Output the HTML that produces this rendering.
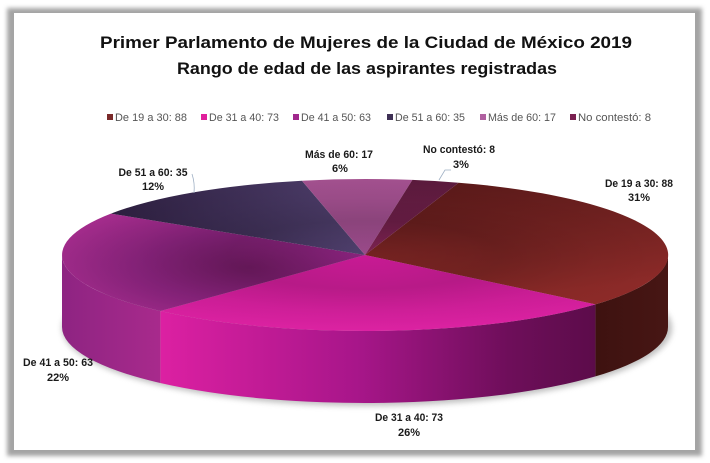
<!DOCTYPE html>
<html><head><meta charset="utf-8"><style>
html,body{margin:0;padding:0;background:#fff;}
svg{display:block;}
text{font-family:"Liberation Sans",sans-serif;}
</style></head><body>
<svg width="710" height="463" viewBox="0 0 710 463" xmlns="http://www.w3.org/2000/svg">
<defs>
<filter id="blur2" x="-10%" y="-10%" width="120%" height="120%"><feGaussianBlur stdDeviation="2"/></filter>
<filter id="blur3" x="-10%" y="-20%" width="120%" height="140%"><feGaussianBlur stdDeviation="3"/></filter>
<linearGradient id="g19" x1="0" y1="0" x2="0.3" y2="1"><stop offset="0" stop-color="#561818"/><stop offset="1" stop-color="#8c2a28"/></linearGradient>
<linearGradient id="g31" x1="0" y1="0" x2="0" y2="1"><stop offset="0" stop-color="#c81a94"/><stop offset="1" stop-color="#dc22a2"/></linearGradient>
<radialGradient id="g41" cx="0.62" cy="0.55" r="0.7"><stop offset="0" stop-color="#701a62"/><stop offset="0.5" stop-color="#86227a"/><stop offset="1" stop-color="#a42c8c"/></radialGradient>
<linearGradient id="g51" x1="0" y1="0" x2="1" y2="0"><stop offset="0" stop-color="#2c1e3e"/><stop offset="1" stop-color="#50406e"/></linearGradient>
<linearGradient id="gMas" x1="0" y1="0" x2="0" y2="1"><stop offset="0" stop-color="#a2508e"/><stop offset="1" stop-color="#9a4a8a"/></linearGradient>
<linearGradient id="gNo" x1="0" y1="0" x2="0" y2="1"><stop offset="0" stop-color="#5a1a3c"/><stop offset="1" stop-color="#7e2252"/></linearGradient>
<linearGradient id="s31" gradientUnits="userSpaceOnUse" x1="160" y1="0" x2="596" y2="0"><stop offset="0" stop-color="#dc20a2"/><stop offset="0.45" stop-color="#a8168a"/><stop offset="0.8" stop-color="#6e0e5a"/><stop offset="1" stop-color="#5c0c4a"/></linearGradient>
<linearGradient id="s41" gradientUnits="userSpaceOnUse" x1="62" y1="0" x2="160" y2="0"><stop offset="0" stop-color="#8e2482"/><stop offset="1" stop-color="#a82a8c"/></linearGradient>
<linearGradient id="s19" gradientUnits="userSpaceOnUse" x1="596" y1="0" x2="668" y2="0"><stop offset="0" stop-color="#3e1210"/><stop offset="1" stop-color="#471614"/></linearGradient>
<radialGradient id="ring" cx="0.5" cy="0.5" r="0.5"><stop offset="0" stop-color="#000" stop-opacity="0"/><stop offset="0.45" stop-color="#000" stop-opacity="0.12"/><stop offset="0.75" stop-color="#000" stop-opacity="0.04"/><stop offset="1" stop-color="#000" stop-opacity="0"/></radialGradient>
</defs>

<!-- frame -->
<rect x="7" y="8" width="695" height="448" fill="#a4a4a4" filter="url(#blur2)"/>
<rect x="14" y="13" width="681" height="437" fill="#ffffff"/>

<!-- title -->
<text x="366" y="48" font-size="17" font-weight="bold" fill="#111" text-anchor="middle" textLength="532" lengthAdjust="spacingAndGlyphs">Primer Parlamento de Mujeres de la Ciudad de México 2019</text>
<text x="367" y="74" font-size="17" font-weight="bold" fill="#111" text-anchor="middle" textLength="380" lengthAdjust="spacingAndGlyphs">Rango de edad de las aspirantes registradas</text>

<!-- legend -->
<g font-size="11" fill="#555">
<rect x="107" y="114" width="6" height="6" fill="#7a2a2a"/><text x="115" y="121" textLength="72" lengthAdjust="spacingAndGlyphs">De 19 a 30: 88</text>
<rect x="201" y="114" width="6" height="6" fill="#e0209c"/><text x="209" y="121" textLength="70" lengthAdjust="spacingAndGlyphs">De 31 a 40: 73</text>
<rect x="293" y="114" width="6" height="6" fill="#a0288c"/><text x="301" y="121" textLength="70" lengthAdjust="spacingAndGlyphs">De 41 a 50: 63</text>
<rect x="387" y="114" width="6" height="6" fill="#3e3055"/><text x="395" y="121" textLength="70" lengthAdjust="spacingAndGlyphs">De 51 a 60: 35</text>
<rect x="480" y="114" width="6" height="6" fill="#b060a0"/><text x="488" y="121" textLength="68" lengthAdjust="spacingAndGlyphs">Más de 60: 17</text>
<rect x="570" y="114" width="6" height="6" fill="#7a2050"/><text x="578" y="121" textLength="73" lengthAdjust="spacingAndGlyphs">No contestó: 8</text>
</g>

<!-- shadow -->
<ellipse cx="367" cy="328" rx="305" ry="78" fill="#8a8a8a" opacity="0.55" filter="url(#blur3)"/>

<!-- sides -->
<path d="M668,255 A303,76 0 0 1 595.4,304.4 L595.4,376.4 A303,76 0 0 0 668,327 Z" fill="url(#s19)"/>
<path d="M595.4,304.4 A303,76 0 0 1 160.3,311 L160.3,383 A303,76 0 0 0 595.4,376.4 Z" fill="url(#s31)"/>
<path d="M160.3,311 A303,76 0 0 1 62,255 L62,327 A303,76 0 0 0 160.3,383 Z" fill="url(#s41)"/>

<!-- top -->
<path d="M365,255 L458.6,182.7 A303,76 0 0 1 595.4,304.4 Z" fill="url(#g19)"/>
<path d="M365,255 L595.4,304.4 A303,76 0 0 1 160.3,311 Z" fill="url(#g31)"/>
<path d="M365,255 L160.3,311 A303,76 0 0 1 110.9,213.6 Z" fill="url(#g41)"/>
<path d="M365,255 L110.9,213.6 A303,76 0 0 1 302,180.7 Z" fill="url(#g51)"/>
<path d="M365,255 L302,180.7 A303,76 0 0 1 412.4,179.9 Z" fill="url(#gMas)"/>
<path d="M365,255 L412.4,179.9 A303,76 0 0 1 458.6,182.7 Z" fill="url(#gNo)"/>
<ellipse cx="365" cy="255" rx="303" ry="76" fill="url(#ring)"/>

<!-- leader lines -->
<path d="M192,174 Q195,183 194,193" fill="none" stroke="#9fb0c4" stroke-width="0.8"/>
<path d="M439,180 L445,170 L451,170" fill="none" stroke="#9fb0c4" stroke-width="0.8"/>

<!-- data labels -->
<g font-size="11" font-weight="bold" fill="#1a1a1a" text-anchor="middle">
<text x="639" y="187" textLength="68" lengthAdjust="spacingAndGlyphs">De 19 a 30: 88</text>
<text x="639" y="201">31%</text>
<text x="409" y="421" textLength="68" lengthAdjust="spacingAndGlyphs">De 31 a 40: 73</text>
<text x="409" y="436">26%</text>
<text x="58" y="366" textLength="70" lengthAdjust="spacingAndGlyphs">De 41 a 50: 63</text>
<text x="58" y="381">22%</text>
<text x="153" y="176" textLength="69" lengthAdjust="spacingAndGlyphs">De 51 a 60: 35</text>
<text x="153" y="190">12%</text>
<text x="339" y="158" textLength="68" lengthAdjust="spacingAndGlyphs">Más de 60: 17</text>
<text x="340" y="172">6%</text>
<text x="459" y="153" textLength="72" lengthAdjust="spacingAndGlyphs">No contestó: 8</text>
<text x="461" y="168">3%</text>
</g>
</svg>
</body></html>
